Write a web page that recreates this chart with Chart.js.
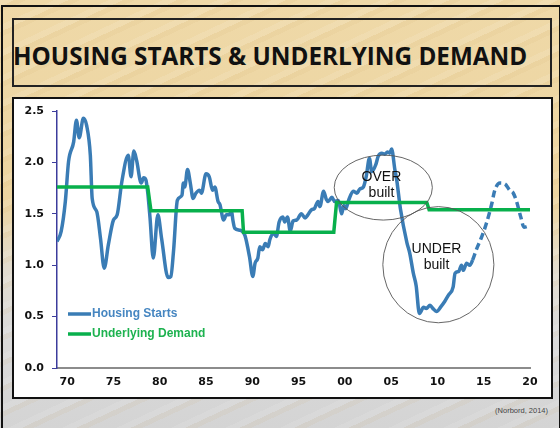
<!DOCTYPE html>
<html lang="en">
<head>
  <meta charset="UTF-8">
  <title>Housing Starts & Underlying Demand</title>
  <script src="https://cdn.jsdelivr.net/npm/chart.js"></script>
  <style>
    html, body { margin: 0; padding: 0; }
    body {
      width: 560px; height: 428px; position: relative; overflow: hidden;
      background:
        repeating-linear-gradient(155deg, rgba(255,255,255,0.10) 0 6px, rgba(200,160,90,0.08) 6px 11px, rgba(255,255,255,0) 11px 23px),
        linear-gradient(to bottom, #efd9a8 0px, #ecd4a0 200px, #e2dccf 270px, #dadada 330px, #d4d4d4 428px);
    }
    #frame { position: absolute; left: 1px; top: 5px; width: 556px; height: 430px; border: 2px solid #111; border-bottom: none; }
    #titleBox { position: absolute; left: 12px; top: 18px; width: 540px; height: 69px; border: 2px solid #222; box-sizing: border-box; }
    #title {
      position: absolute; left: 13px; top: 39px; white-space: nowrap;
      font-family: "Open Sans", sans-serif; font-weight: 700; font-size: 25px; line-height: 32px;
      color: #111; transform-origin: 0 0;
    }
    #panel { position: absolute; left: 12px; top: 97px; width: 541px; height: 302px; background: #fff; border: 2px solid #111; box-sizing: border-box; }
    #source { position: absolute; right: 12px; top: 406px; font-family: "Liberation Sans", sans-serif; font-size: 7.5px; color: #444; }
    canvas { position: absolute; left: 0; top: 0; }
  </style>
</head>
<body>
  <div id="frame"></div>
  <div id="titleBox"></div>
  <div id="title">HOUSING STARTS &amp; UNDERLYING DEMAND</div>
  <div id="panel"></div>
  <div id="source">(Norbord, 2014)</div>
  <canvas id="housingChart" width="560" height="428"></canvas>

  <script>
    // series names
    const seriesNames = ['Housing Starts', 'Underlying Demand'];

    // housing starts (millions); dashed after forecastFrom
    const startYears = [
      1968.9, 1969.35, 1969.8, 1970.15, 1970.7, 1971.0, 1971.3, 1971.75, 1972.1, 1972.5,
      1972.7, 1973.2, 1973.6, 1974.0, 1974.45, 1975.0, 1975.4, 1975.9, 1976.6, 1976.9,
      1977.2, 1977.5, 1978.0, 1978.25, 1978.5, 1978.7, 1978.95, 1979.3, 1979.8, 1980.2,
      1980.9, 1981.2, 1981.5, 1981.9, 1982.4, 1982.55, 1982.7, 1983.0, 1983.3, 1983.6,
      1983.9, 1984.3, 1984.5, 1985.0, 1985.35, 1985.7, 1985.95, 1986.3, 1986.5, 1986.9,
      1987.2, 1987.5, 1987.75, 1987.9, 1988.1, 1988.7, 1989.2, 1989.7, 1990.05, 1990.3,
      1990.6, 1990.8, 1991.1, 1991.4, 1991.7, 1991.9, 1992.3, 1992.6, 1992.9, 1993.3,
      1993.5, 1993.8, 1994.1, 1994.4, 1994.8, 1995.3, 1995.7, 1996.0, 1996.4, 1996.7,
      1997.1, 1997.3, 1997.7, 1998.0, 1998.2, 1998.6, 1998.9, 1999.3, 1999.65, 1999.9,
      2000.1, 2000.4, 2000.9, 2001.3, 2001.6, 2002.0, 2002.3, 2002.65, 2002.9, 2003.35,
      2003.6, 2004.0, 2004.3, 2004.6, 2004.85, 2005.05, 2005.4, 2005.6, 2006.0, 2006.7,
      2007.0, 2007.4, 2007.7, 2008.05, 2008.5, 2008.8, 2009.2, 2009.5, 2009.9, 2010.4,
      2010.8, 2011.2, 2011.7, 2011.9, 2012.3, 2012.6, 2012.8, 2013.15, 2013.5, 2013.8,
      2014.2, 2014.8, 2015.3, 2015.85, 2016.2, 2016.75, 2017.3, 2017.8, 2018.2, 2018.55,
      2019.0, 2019.35, 2019.8
    ];
    const startValues = [
      1.23, 1.33, 1.62, 2.01, 2.20, 2.41, 2.24, 2.43, 2.36, 2.07,
      1.65, 1.52, 1.26, 0.97, 1.20, 1.44, 1.49, 1.81, 2.07, 1.86,
      2.11, 2.02, 1.80, 1.85, 1.83, 1.71, 1.46, 1.07, 1.49, 1.26,
      0.88, 0.89, 1.15, 1.63, 1.68, 1.80, 1.76, 1.93, 1.80, 1.65,
      1.70, 1.73, 1.70, 1.89, 1.86, 1.73, 1.76, 1.62, 1.59, 1.44,
      1.49, 1.49, 1.53, 1.44, 1.36, 1.34, 1.29, 1.08, 0.89, 1.02,
      1.07, 1.18, 1.15, 1.21, 1.18, 1.25, 1.31, 1.28, 1.42, 1.47,
      1.42, 1.47, 1.33, 1.43, 1.44, 1.50, 1.46, 1.49, 1.54, 1.55,
      1.62, 1.57, 1.72, 1.64, 1.62, 1.66, 1.62, 1.63, 1.50, 1.58,
      1.55, 1.63, 1.72, 1.70, 1.74, 1.76, 1.86, 2.04, 1.91, 1.98,
      2.06, 2.09, 2.08, 2.10, 2.09, 2.13, 1.93, 1.83, 1.55, 1.22,
      1.12, 0.92, 0.80, 0.53, 0.59, 0.58, 0.61, 0.58, 0.55, 0.60,
      0.65, 0.71, 0.79, 0.92, 0.94, 1.00, 0.95, 1.02, 1.00, 1.05,
      1.15, 1.28, 1.41, 1.59, 1.73, 1.80, 1.79, 1.73, 1.70, 1.62,
      1.47, 1.37, 1.38
    ];
    const forecastFrom = 2013.8;

    // underlying demand (step line)
    const demandYears  = [1968.9, 1978.7, 1979.05, 1988.9, 1989.05, 1998.8, 1999.1, 2008.85, 2009.1, 2020.0];
    const demandValues = [1.76, 1.76, 1.53, 1.53, 1.32, 1.32, 1.61, 1.61, 1.54, 1.54];

    // axis ticks
    const xTickYears  = [1970, 1975, 1980, 1985, 1990, 1995, 2000, 2005, 2010, 2015, 2020];
    const xTickLabels = ['70', '75', '80', '85', '90', '95', '00', '05', '10', '15', '20'];
    const yTickValues = [0, 0.5, 1.0, 1.5, 2.0, 2.5];

    // call-outs: centre (year, value), radii (years, value units)
    const callouts = [
      { lines: ['OVER', 'built'],  cx: 2004.15, cy: 1.755, rx: 5.3, ry: 0.316, tx: 2003.95, ty: [1.82, 1.66] },
      { lines: ['UNDER', 'built'], cx: 2010.1,  cy: 1.005, rx: 6.0, ry: 0.565, tx: 2009.9,  ty: [1.12, 0.96] }
    ];

    const blue = '#3a7cb5';
    const green = '#08b04c';
    const legendColors = ['#4686c1', '#1db24f'];

    // fit the title to the width it has in the reference
    const titleEl = document.getElementById('title');
    titleEl.style.transform = 'scaleX(' + (514 / titleEl.offsetWidth) + ')';

    const toPoints = (xs, ys) => xs.map((x, i) => ({ x: x, y: ys[i] }));

    const extras = {
      id: 'extras',
      afterDatasetsDraw(chart) {
        const ctx = chart.ctx;
        const xs = chart.scales.x, ys = chart.scales.y;
        const area = chart.chartArea;

        // ellipses and their labels
        ctx.save();
        callouts.forEach(c => {
          const px = xs.getPixelForValue(c.cx), py = ys.getPixelForValue(c.cy);
          const rx = xs.getPixelForValue(c.cx + c.rx) - px;
          const ry = py - ys.getPixelForValue(c.cy + c.ry);
          ctx.beginPath();
          ctx.ellipse(px, py, rx, ry, 0, 0, Math.PI * 2);
          ctx.strokeStyle = '#555';
          ctx.lineWidth = 0.9;
          ctx.stroke();
          ctx.fillStyle = '#111';
          ctx.font = '14px "Liberation Sans", Arial, sans-serif';
          ctx.textAlign = 'center';
          ctx.textBaseline = 'alphabetic';
          c.lines.forEach((t, i) => {
            ctx.fillText(t, xs.getPixelForValue(c.tx), ys.getPixelForValue(c.ty[i]));
          });
        });

        // legend inside the plot
        ctx.font = 'bold 12px "Liberation Sans", Arial, sans-serif';
        ctx.textAlign = 'left';
        ctx.textBaseline = 'middle';
        const colors = [blue, green];
        seriesNames.forEach((name, i) => {
          const y = area.top + 203 + i * 20;
          ctx.beginPath();
          ctx.moveTo(area.left + 11, y);
          ctx.lineTo(area.left + 34, y);
          ctx.strokeStyle = colors[i];
          ctx.lineWidth = 3.5;
          ctx.stroke();
          ctx.fillStyle = legendColors[i];
          ctx.fillText(name, area.left + 35, y);
        });
        ctx.restore();
      }
    };

    new Chart(document.getElementById('housingChart'), {
      type: 'line',
      data: {
        datasets: [{
          label: seriesNames[0],
          data: toPoints(startYears, startValues),
          borderColor: blue,
          borderWidth: 3.5,
          pointRadius: 0,
          cubicInterpolationMode: 'monotone',
          order: 2,
          segment: {
            borderDash: c => c.p0.parsed.x >= forecastFrom ? [7, 4] : undefined
          }
        }, {
          label: seriesNames[1],
          data: toPoints(demandYears, demandValues),
          borderColor: green,
          borderWidth: 3.5,
          pointRadius: 0,
          tension: 0,
          order: 1
        }]
      },
      options: {
        responsive: false,
        animation: false,
        layout: { padding: { left: 0, top: 111, right: 30, bottom: 30 } },
        plugins: {
          legend: { display: false },
          tooltip: { enabled: false },
          title: { display: false }
        },
        scales: {
          x: {
            type: 'linear',
            min: 1968.9,
            max: 2020,
            afterBuildTicks: s => { s.ticks = xTickYears.map(v => ({ value: v })); },
            afterFit: s => { s.height = 30; },
            grid: { display: false, drawTicks: false },
            border: { display: true, color: '#8c8c8c', width: 2 },
            ticks: {
              padding: 8,
              color: '#111',
              font: { family: '"DejaVu Sans", Verdana, sans-serif', weight: 'bold', size: 11 },
              callback: v => xTickLabels[xTickYears.indexOf(v)]
            }
          },
          y: {
            min: 0,
            max: 2.5,
            afterBuildTicks: s => { s.ticks = yTickValues.map(v => ({ value: v })); },
            afterFit: s => { s.width = 57; },
            grid: { drawOnChartArea: false, drawTicks: true, tickLength: 5, color: '#3c3c9c', lineWidth: 1 },
            border: { display: true, color: '#3c3c9c', width: 1.5 },
            ticks: {
              padding: 8,
              color: '#111',
              font: { family: '"DejaVu Sans", Verdana, sans-serif', weight: 'bold', size: 11 },
              callback: v => v.toFixed(1)
            }
          }
        }
      },
      plugins: [extras]
    });
  </script>
</body>
</html>
